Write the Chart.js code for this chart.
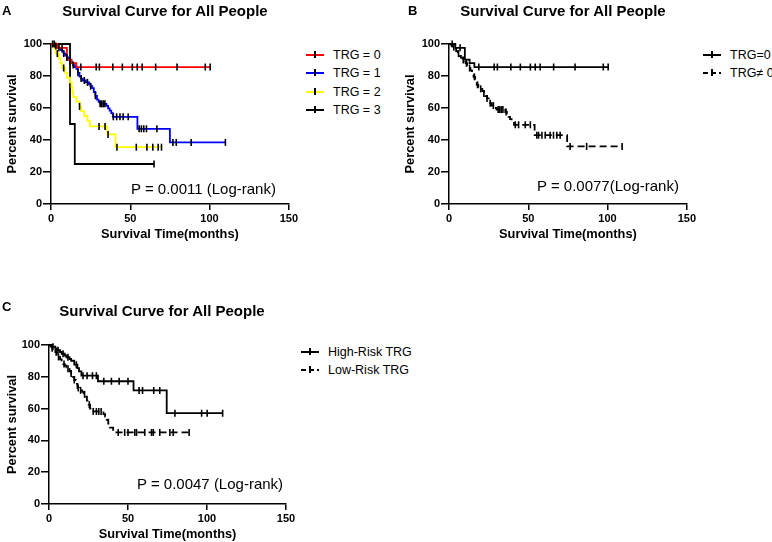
<!DOCTYPE html>
<html>
<head>
<meta charset="utf-8">
<script src="https://cdn.jsdelivr.net/npm/chart.js@4.4.1/dist/chart.umd.min.js"></script>
<style>
body { margin: 0; width: 772px; height: 542px; overflow: hidden; background: #fff; position: relative; font-family: "Liberation Sans", Arial, sans-serif; color: #000; }
canvas { position: absolute; }
.txt { position: absolute; white-space: nowrap; line-height: 16px; }
.title { font-size: 15px; font-weight: bold; transform: translateX(-50%); }
.letter { font-size: 13px; font-weight: bold; }
.pval { font-size: 15px; }
.leg { font-size: 12.5px; }
.mark { position: absolute; height: 2px; width: 18px; }
.mark i { position: absolute; left: 8px; top: -3px; width: 2px; height: 7px; background: #000; }
</style>
</head>
<body>
<script>
const xTicks = [0, 50, 100, 150];
const yTicks = [0, 20, 40, 60, 80, 100];

// Panel A: TRG = 0..3
const trg0Time = [0, 4, 10, 13, 16];
const trg0Surv = [100, 97.6, 90.2, 88, 85.6];
const trg0Cens = [2, 7, 18.8, 28.5, 30.5, 39, 45, 51.3, 54.4, 57.5, 66, 79.5, 97.3, 100.4];

const trg1Time = [0, 2, 4, 6, 7, 8, 9, 10, 11, 12, 13, 14, 15, 16, 17, 18, 19, 20, 22, 24, 25, 26, 27, 28, 29, 30, 31, 35, 36, 37, 38, 39, 54.5, 75];
const trg1Surv = [100, 98.8, 97.6, 96.4, 95.2, 94, 92.8, 91.6, 90.4, 89.2, 88, 86.8, 85.6, 84.4, 82, 79.6, 78.4, 77.2, 76, 74.8, 73.6, 72.4, 70, 67.6, 65.2, 63.9, 62.6, 61.3, 59.8, 58.3, 56.8, 54.5, 47, 38.5];
const trg1Cens = [1, 3, 5, 8, 10, 12, 14, 17, 19, 21, 23, 25, 28, 31, 32, 33, 34, 39.3, 41.4, 43.5, 45.5, 48.7, 55.6, 57, 58.5, 60.2, 66.8, 76.9, 79, 88.4, 110];

const trg2Time = [0, 2, 3, 5, 6, 7, 9, 10, 12, 13, 13.5, 14, 16, 18, 19, 21, 23, 24.5, 35.5, 40.7];
const trg2Surv = [100, 97, 94, 91, 88, 85, 82, 79, 76, 73, 70, 67, 64, 61, 58, 55, 52, 48.5, 43.5, 35.5];
const trg2Cens = [4, 8, 18, 30.3, 34.1, 36, 41.6, 53.8, 60.5, 64.2, 67.6, 69.7];

const trg3Time = [0, 12, 15];
const trg3Surv = [100, 50, 25];
const trg3Cens = [65];

// Panel B: TRG=0 vs TRG != 0
const trgNot0Time = [0, 1.5, 2.5, 3.5, 4.5, 5.5, 6.5, 7.5, 8.5, 9.5, 10.5, 11.5, 12.5, 13.5, 14.5, 15.5, 16.5, 17.5, 18.5, 19.5, 21, 22, 23, 24, 25, 26, 27, 28.5, 30, 35.5, 36.5, 37.5, 38.5, 39.5, 41, 54, 74.5];
const trgNot0Surv = [100, 99, 98, 97, 95.5, 94, 92.5, 91.5, 90, 89, 88, 86.5, 85, 83.5, 81.5, 79.5, 77, 74.5, 73, 72, 70.5, 69, 67.5, 66, 64.5, 63, 61.5, 60, 59, 57.5, 56, 54.5, 53, 51.5, 49.5, 43, 36];
const trgNot0Cens = [3, 6, 9, 11, 13, 16, 18, 20, 22, 24, 26, 28, 31, 32, 33, 34, 36, 41.8, 43.9, 48.1, 51.3, 55.4, 56.5, 58.6, 60.7, 63.8, 65.9, 68, 70.1, 76.4, 86.8, 109.2];

// Panel C: High-Risk vs Low-Risk TRG
const highTime = [0, 2, 4, 5, 7, 8, 10, 11, 13, 14, 16, 18, 19, 20.5, 31, 53.5, 74.5];
const highSurv = [100, 98.9, 97.8, 96.7, 95.6, 94.5, 93.4, 92.3, 91.2, 90.1, 87.6, 85.5, 83.4, 80.7, 77.2, 71.4, 57.1];
const highCens = [2.5, 5.7, 8.9, 12, 17.3, 21.5, 24.1, 27.5, 30, 34.7, 39.5, 44.4, 50, 57, 59.2, 66.3, 70.1, 79.7, 96.6, 100.1, 109.9];

const lowTime = [0, 1, 2, 3, 4, 5, 6, 7, 8, 9, 10, 11, 12, 13, 14, 15, 16, 17, 18, 19, 21, 22, 23, 24, 25, 26, 27, 34.5, 35.5, 36.5, 37.5, 38.5, 40.6];
const lowSurv = [100, 99, 98, 97, 95.5, 94, 92.5, 91, 89.5, 88, 87, 86, 85, 83.5, 82, 80, 78, 75.5, 73, 71.5, 70.5, 69, 67.5, 65, 62.5, 60, 58.2, 56.5, 55, 53, 50.5, 48, 45];
const lowCens = [2, 4.5, 6, 9.5, 12, 14, 16, 18.5, 20, 22.5, 25.5, 28, 30, 31.5, 33, 43.8, 47.9, 50, 54.3, 55.4, 60.6, 64.9, 66, 70.1, 76.5, 78.6, 88.7];

Chart.defaults.font.family = '"Liberation Sans", Arial, sans-serif';
Chart.defaults.color = '#000';

function survAt(time, surv, t) {
    let s = surv[0];
    for (let i = 0; i < time.length; i++) if (time[i] <= t) s = surv[i];
    return s;
}

function addText(cls, text, left, top) {
    const d = document.createElement('div');
    d.className = 'txt ' + cls;
    d.textContent = text;
    d.style.left = left + 'px';
    d.style.top = top + 'px';
    document.body.appendChild(d);
}

function makePanel(p) {
    const cv = document.createElement('canvas');
    cv.style.left = p.left + 'px';
    cv.style.top = p.top + 'px';
    cv.style.width = p.w + 'px';
    cv.style.height = p.h + 'px';
    cv.width = p.w;
    cv.height = p.h;
    document.body.appendChild(cv);

    const datasets = [];
    p.series.forEach(s => {
        const end = s.cens[s.cens.length - 1];
        const pts = s.time.map((t, i) => ({ x: t, y: s.surv[i] }));
        pts.push({ x: end, y: s.surv[s.surv.length - 1] });
        datasets.push({
            type: 'line', label: s.label, data: pts, stepped: true,
            borderColor: s.color, borderWidth: 1.8, borderDash: s.dash || [],
            pointRadius: 0, fill: false, order: 2, clip: false
        });
        datasets.push({
            type: 'scatter', data: s.cens.map(t => ({ x: t, y: survAt(s.time, s.surv, t) })),
            pointStyle: 'line', rotation: 90, radius: 3.5,
            borderColor: '#000', backgroundColor: '#000', borderWidth: 1.6, order: 1, clip: false
        });
    });

    new Chart(cv, {
        data: { datasets },
        options: {
            responsive: false,
            animation: false,
            events: [],
            layout: { padding: { top: p.padTop, right: p.padRight, left: 0, bottom: 0 } },
            plugins: { legend: { display: false }, tooltip: { enabled: false } },
            scales: {
                x: {
                    type: 'linear', min: 0, max: 150,
                    afterBuildTicks: ax => { ax.ticks = xTicks.map(v => ({ value: v })); },
                    afterFit: ax => { ax.height = p.xH; },
                    grid: { drawOnChartArea: false, tickLength: 6, color: '#000', lineWidth: 1.5 },
                    border: { color: '#000', width: 1.5 },
                    ticks: { color: '#000', font: { size: 11, weight: 'bold' }, padding: 2, maxRotation: 0 },
                    title: { display: true, text: 'Survival Time(months)', color: '#000', font: { size: 12.8, weight: 'bold' }, padding: { top: 0, bottom: 3 } }
                },
                y: {
                    type: 'linear', min: 0, max: 100,
                    afterBuildTicks: ax => { ax.ticks = yTicks.map(v => ({ value: v })); },
                    afterFit: ax => { ax.width = p.yW; },
                    grid: { drawOnChartArea: false, tickLength: 8, color: '#000', lineWidth: 1.5 },
                    border: { color: '#000', width: 1.5 },
                    ticks: { color: '#000', font: { size: 11, weight: 'bold' }, padding: 1 },
                    title: { display: true, text: 'Percent survival', color: '#000', font: { size: 12.8, weight: 'bold' }, padding: { top: 5, bottom: 0 } }
                }
            }
        }
    });

    addText('letter', p.letter, p.letterX, p.letterY - 8);
    const t = document.createElement('div');
    t.className = 'txt title';
    t.textContent = 'Survival Curve for All People';
    t.style.left = p.titleX + 'px';
    t.style.top = (p.titleY - 8) + 'px';
    document.body.appendChild(t);
    addText('pval', p.pText, p.pX, p.pY - 8);

    p.series.forEach((s, i) => {
        const y = p.legY + i * p.legStep;
        const m = document.createElement('div');
        m.className = 'mark';
        m.style.left = p.legX + 'px';
        m.style.top = (y - 1) + 'px';
        m.style.background = s.dash
            ? 'repeating-linear-gradient(90deg, ' + s.color + ' 0 5px, transparent 5px 8px)'
            : s.color;
        m.appendChild(document.createElement('i'));
        document.body.appendChild(m);
        addText('leg', s.label, p.legX + 27, y - 8);
    });
}

makePanel({
    left: 0, top: 0, w: 300, h: 245, padTop: 44, padRight: 10, yW: 51, xH: 41,
    letter: 'A', letterX: 2, letterY: 11, titleX: 165, titleY: 11,
    pText: 'P = 0.0011 (Log-rank)', pX: 131, pY: 189,
    legX: 306, legY: 55, legStep: 18.3,
    series: [
        { label: 'TRG = 0', time: trg0Time, surv: trg0Surv, cens: trg0Cens, color: '#ff0000' },
        { label: 'TRG = 1', time: trg1Time, surv: trg1Surv, cens: trg1Cens, color: '#0000ff' },
        { label: 'TRG = 2', time: trg2Time, surv: trg2Surv, cens: trg2Cens, color: '#ffff00' },
        { label: 'TRG = 3', time: trg3Time, surv: trg3Surv, cens: trg3Cens, color: '#000000' }
    ]
});

makePanel({
    left: 398, top: 0, w: 300, h: 245, padTop: 44, padRight: 10, yW: 51, xH: 41,
    letter: 'B', letterX: 408, letterY: 11, titleX: 563, titleY: 11,
    pText: 'P = 0.0077(Log-rank)', pX: 537, pY: 186,
    legX: 703, legY: 55, legStep: 18.3,
    series: [
        { label: 'TRG=0', time: trg0Time, surv: trg0Surv, cens: trg0Cens, color: '#000000' },
        { label: 'TRG\u2260 0', time: trgNot0Time, surv: trgNot0Surv, cens: trgNot0Cens, color: '#000000', dash: [7, 4] }
    ]
});

makePanel({
    left: 0, top: 301, w: 300, h: 244, padTop: 44, padRight: 14, yW: 49, xH: 41,
    letter: 'C', letterX: 2, letterY: 307, titleX: 162, titleY: 311,
    pText: 'P = 0.0047 (Log-rank)', pX: 137, pY: 484,
    legX: 301, legY: 352, legStep: 18.3,
    series: [
        { label: 'High-Risk TRG', time: highTime, surv: highSurv, cens: highCens, color: '#000000' },
        { label: 'Low-Risk TRG', time: lowTime, surv: lowSurv, cens: lowCens, color: '#000000', dash: [7, 4] }
    ]
});
</script>
</body>
</html>
